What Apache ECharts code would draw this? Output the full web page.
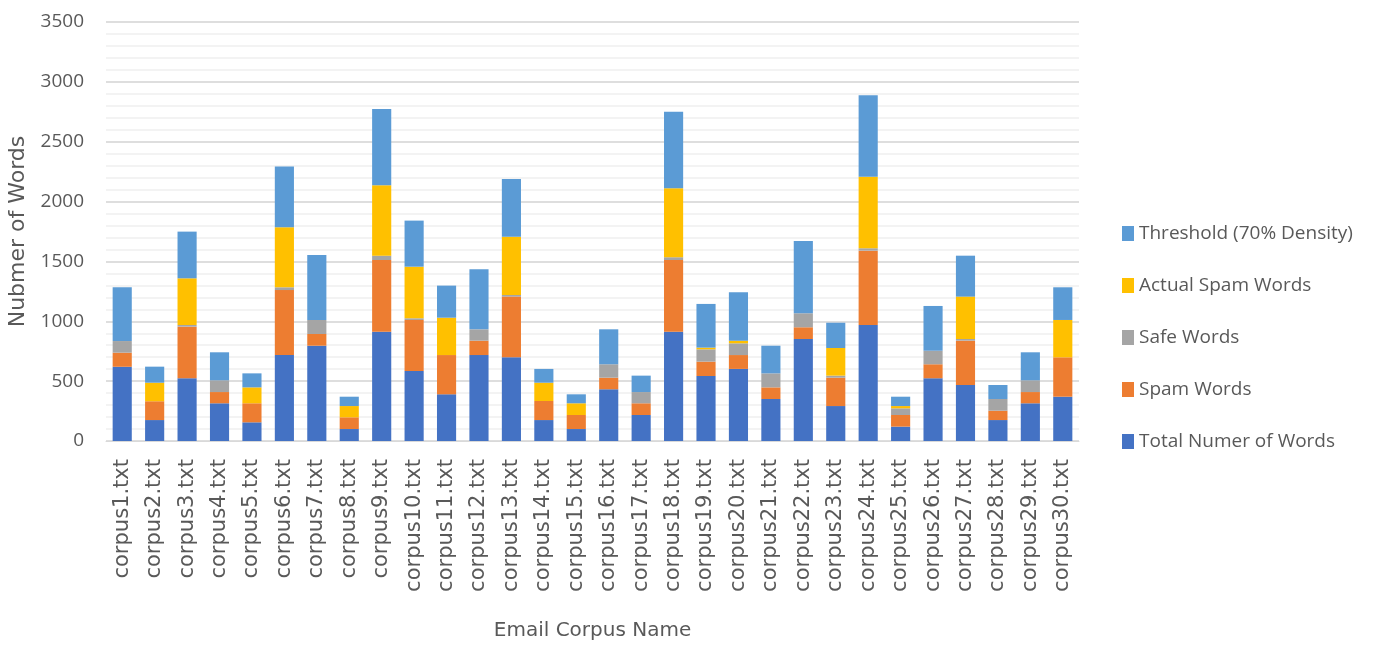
<!DOCTYPE html>
<html>
<head>
<meta charset="utf-8">
<title>Email Corpus Word Counts</title>
<script src="https://cdn.jsdelivr.net/npm/echarts@6/dist/echarts.min.js"></script>
<style>
  html, body { margin: 0; padding: 0; background: #ffffff; }
  #chart { width: 1376px; height: 646px; }
</style>
</head>
<body>
<div id="chart"></div>
<script>
// Corpus file names along the x axis
const corpora = [
  'corpus1.txt', 'corpus2.txt', 'corpus3.txt', 'corpus4.txt', 'corpus5.txt',
  'corpus6.txt', 'corpus7.txt', 'corpus8.txt', 'corpus9.txt', 'corpus10.txt',
  'corpus11.txt', 'corpus12.txt', 'corpus13.txt', 'corpus14.txt', 'corpus15.txt',
  'corpus16.txt', 'corpus17.txt', 'corpus18.txt', 'corpus19.txt', 'corpus20.txt',
  'corpus21.txt', 'corpus22.txt', 'corpus23.txt', 'corpus24.txt', 'corpus25.txt',
  'corpus26.txt', 'corpus27.txt', 'corpus28.txt', 'corpus29.txt', 'corpus30.txt'
];

// Stacked segments, bottom to top
const totalWords = [620, 175, 524, 315, 156, 718, 796, 100, 913, 585,
                    390, 718, 699, 175, 100, 432, 217, 913, 543, 602,
                    351, 852, 292, 969, 120, 524, 468, 175, 315, 370];
const spamWords = [118, 157, 431, 94, 159, 543, 98, 98, 599, 426,
                   328, 120, 507, 159, 117, 97, 98, 599, 120, 116,
                   97, 98, 237, 621, 97, 117, 370, 78, 94, 329];
const safeWords = [97, 0, 14, 98, 0, 23, 117, 0, 36, 14,
                   0, 95, 14, 0, 0, 112, 94, 23, 103, 98,
                   117, 117, 17, 20, 56, 113, 14, 98, 98, 0];
const actualSpamWords = [0, 155, 390, 0, 133, 501, 0, 94, 588, 431,
                         312, 0, 487, 153, 98, 0, 0, 576, 14, 22,
                         0, 0, 231, 598, 19, 0, 354, 0, 0, 312];
const thresholdWords = [449, 134, 390, 234, 117, 507, 543, 78, 638, 385,
                        268, 501, 482, 115, 75, 292, 137, 640, 365, 404,
                        231, 604, 211, 680, 78, 374, 342, 117, 234, 273];

const seriesNames = ['Total Numer of Words', 'Spam Words', 'Safe Words', 'Actual Spam Words', 'Threshold (70% Density)'];
const seriesColors = ['#4472C4', '#ED7D31', '#A5A5A5', '#FFC000', '#5B9BD5'];
const seriesData = [totalWords, spamWords, safeWords, actualSpamWords, thresholdWords];

const textColor = '#595959';
const fontFamily = '"Open Sans", "Liberation Sans", sans-serif';
const wideFont = '"DejaVu Sans", sans-serif';

const chart = echarts.init(document.getElementById('chart'), null, { renderer: 'canvas' });

chart.setOption({
  backgroundColor: '#ffffff',
  animation: false,
  textStyle: { fontFamily: fontFamily },
  grid: { left: 106, right: 297, top: 22, bottom: 205, containLabel: false, outerBoundsMode: 'none' },
  legend: {
    orient: 'vertical',
    left: 1117,
    top: 219,
    itemWidth: 12,
    itemHeight: 15,
    itemGap: 33,
    icon: 'rect',
    data: seriesNames.slice().reverse(),
    textStyle: { color: textColor, fontSize: 19, fontFamily: fontFamily, padding: [0, 0, 0, 0] }
  },
  xAxis: {
    type: 'category',
    data: corpora,
    name: 'Email Corpus Name',
    nameLocation: 'middle',
    nameGap: 180,
    nameTextStyle: { color: textColor, fontSize: 20, fontFamily: wideFont },
    axisLine: { show: true, lineStyle: { color: '#D9D9D9', width: 1 } },
    axisTick: { show: false },
    axisLabel: {
      rotate: 90,
      margin: 18,
      color: textColor,
      fontSize: 21,
      fontFamily: wideFont,
      interval: 0
    }
  },
  yAxis: {
    type: 'value',
    min: 0,
    max: 3500,
    interval: 500,
    name: 'Nubmer of Words',
    nameLocation: 'middle',
    nameGap: 76,
    nameRotate: 90,
    nameTextStyle: { color: textColor, fontSize: 22, fontFamily: wideFont },
    axisLine: { show: false },
    axisTick: { show: false },
    axisLabel: {
      color: textColor, fontSize: 19, margin: 22, fontFamily: fontFamily,
      formatter: (v) => String(v)
    },
    splitLine: { show: true, lineStyle: { color: '#D3D3D3', width: 1.5 } },
    minorTick: { show: false, splitNumber: 5 },
    minorSplitLine: { show: true, lineStyle: { color: '#EFEFEF', width: 1.5 } }
  },
  series: seriesNames.map((name, i) => ({
    name: name,
    type: 'bar',
    stack: 'words',
    barWidth: '59%',
    data: seriesData[i],
    itemStyle: { color: seriesColors[i] },
    emphasis: { disabled: true }
  }))
});
</script>
</body>
</html>
